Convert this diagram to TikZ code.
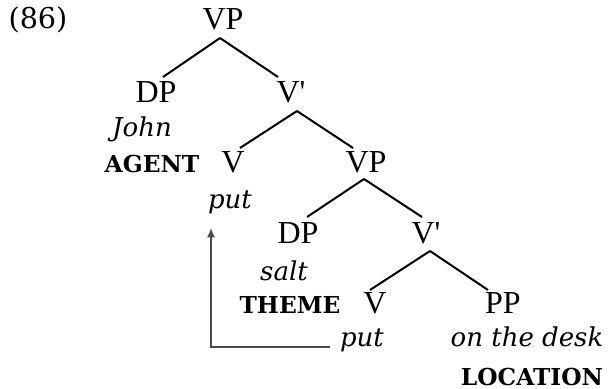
\documentclass[tikz,border=0pt]{standalone}
\usepackage{fontspec}
\setmainfont{Liberation Serif}
\newfontfamily\lblfont{DejaVu Serif}
\usetikzlibrary{calc,arrows.meta}
\tikzset{
  cat/.style={inner sep=0pt, anchor=base, font=\fontsize{24}{29}\selectfont},
  word/.style={inner sep=0pt, anchor=base, font=\lblfont\itshape\fontsize{19.5}{23}\selectfont},
  role/.style={inner sep=0pt, anchor=base, font=\lblfont\bfseries\fontsize{17.5}{21}\selectfont},
  exnum/.style={inner sep=0pt, anchor=base, font=\lblfont\fontsize{21.5}{26}\selectfont},
  branch/.style={line width=1.5pt},
  move/.style={line width=0.8pt, draw=black!70, -{Latex[length=7pt,width=6pt]}}
}
\begin{document}
\begin{tikzpicture}[x=0.75pt,y=-0.75pt]
\useasboundingbox (0,0) rectangle (608,389);
\node[exnum] (ex) at (38,28) {(86)};
\node[cat] (VP1) at (223,29) {VP};
\node[cat] (DP1) at (156,102) {DP};
\node[cat] (Vb1) at (291,102) {V\textquotesingle};
\node[word] (john) at (142,136) {John};
\node[role] (agent) at (152,172) {AGENT};
\node[cat] (V1) at (233,172) {V};
\node[cat] (VP2) at (366,172) {VP};
\node[word] (put1) at (230,208) {put};
\node[cat] (DP2) at (298,243) {DP};
\node[cat] (Vb2) at (426,243) {V\textquotesingle};
\node[word] (salt) at (284,280) {salt};
\node[role] (theme) at (290,313) {THEME};
\node[cat] (V2) at (375,313) {V};
\node[cat] (PP) at (503,313) {PP};
\node[word] (put2) at (362,346) {put};
\node[word] (desk) at (527,346) {on the desk};
\node[role] (loc) at (532,385) {LOCATION};
\draw[branch] ($(VP1.base)+(-3,9)$) -- ($(DP1.base)+(7,-25)$);
\draw[branch] ($(VP1.base)+(-3,9)$) -- ($(Vb1.base)+(-13,-25)$);
\draw[branch] ($(Vb1.base)+(6,9)$) -- ($(V1.base)+(7,-24)$);
\draw[branch] ($(Vb1.base)+(6,9)$) -- ($(VP2.base)+(-13,-24)$);
\draw[branch] ($(VP2.base)+(-2,7)$) -- ($(DP2.base)+(9,-26)$);
\draw[branch] ($(VP2.base)+(-2,7)$) -- ($(Vb2.base)+(-4,-26)$);
\draw[branch] ($(Vb2.base)+(4,8)$) -- ($(V2.base)+(-5,-23)$);
\draw[branch] ($(Vb2.base)+(4,8)$) -- ($(PP.base)+(-15,-23)$);
\draw[move] ($(put2.base)+(-32,1)$) -| ($(put1.base)+(-19,20)$);
\end{tikzpicture}
\end{document}
